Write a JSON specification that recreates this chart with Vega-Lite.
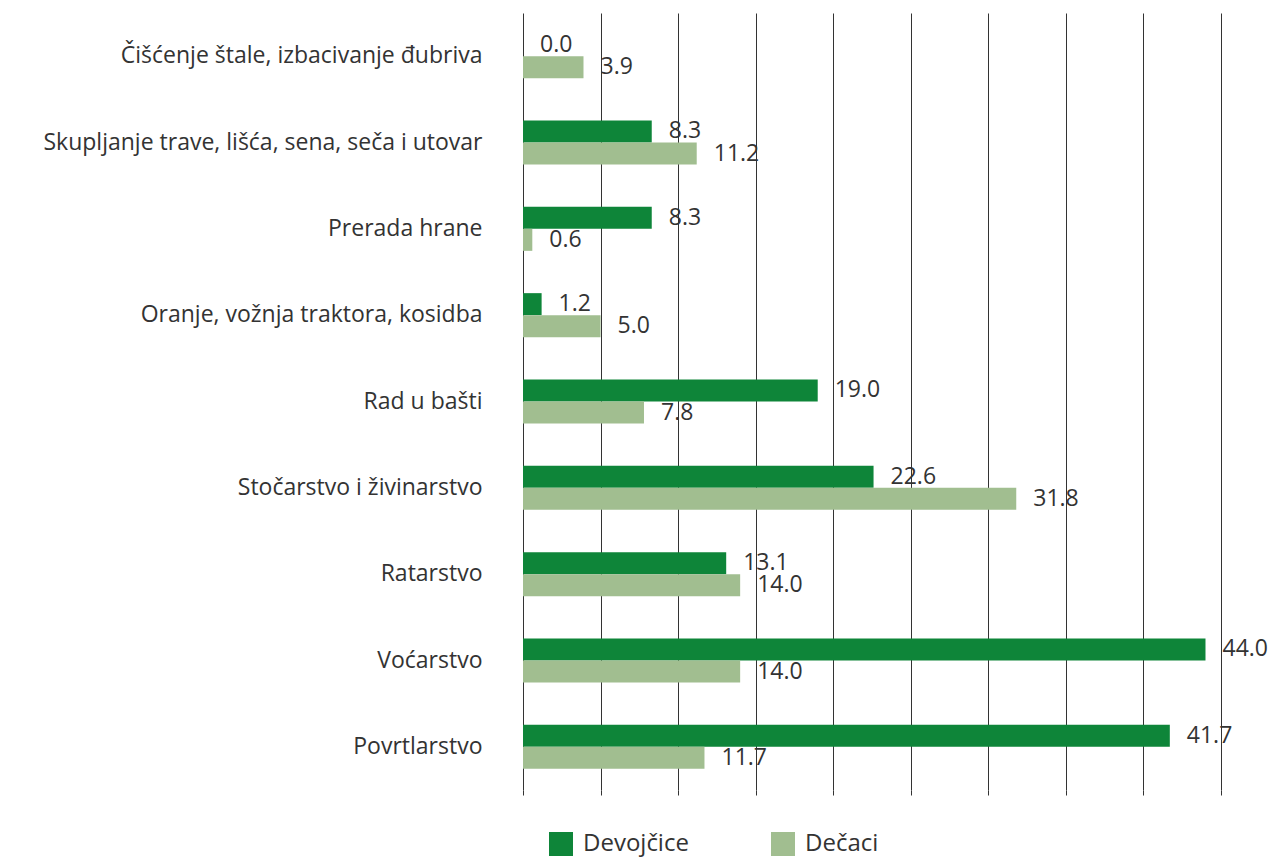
{
  "$schema": "https://vega.github.io/schema/vega-lite/v6.json",
  "autosize": {"type": "none"},
  "width": 698,
  "height": 777,
  "padding": {"left": 523, "top": 13, "right": 55, "bottom": 67},
  "background": "white",
  "config": {"view": {"stroke": null}, "font": "Open Sans"},
  "data": {"values": [
    {"kategorija": "Čišćenje štale, izbacivanje đubriva\u00a0\u00a0", "pol": "Devojčice", "vrednost": 0.0},
    {"kategorija": "Čišćenje štale, izbacivanje đubriva\u00a0\u00a0", "pol": "Dečaci", "vrednost": 3.9},
    {"kategorija": "Skupljanje trave, lišća, sena, seča i utovar\u00a0\u00a0\u00a0", "pol": "Devojčice", "vrednost": 8.3},
    {"kategorija": "Skupljanje trave, lišća, sena, seča i utovar\u00a0\u00a0\u00a0", "pol": "Dečaci", "vrednost": 11.2},
    {"kategorija": "Prerada hrane", "pol": "Devojčice", "vrednost": 8.3},
    {"kategorija": "Prerada hrane", "pol": "Dečaci", "vrednost": 0.6},
    {"kategorija": "Oranje, vožnja traktora, kosidba\u00a0\u00a0", "pol": "Devojčice", "vrednost": 1.2},
    {"kategorija": "Oranje, vožnja traktora, kosidba\u00a0\u00a0", "pol": "Dečaci", "vrednost": 5.0},
    {"kategorija": "Rad u bašti", "pol": "Devojčice", "vrednost": 19.0},
    {"kategorija": "Rad u bašti", "pol": "Dečaci", "vrednost": 7.8},
    {"kategorija": "Stočarstvo i živinarstvo\u00a0", "pol": "Devojčice", "vrednost": 22.6},
    {"kategorija": "Stočarstvo i živinarstvo\u00a0", "pol": "Dečaci", "vrednost": 31.8},
    {"kategorija": "Ratarstvo", "pol": "Devojčice", "vrednost": 13.1},
    {"kategorija": "Ratarstvo", "pol": "Dečaci", "vrednost": 14.0},
    {"kategorija": "Voćarstvo", "pol": "Devojčice", "vrednost": 44.0},
    {"kategorija": "Voćarstvo", "pol": "Dečaci", "vrednost": 14.0},
    {"kategorija": "Povrtlarstvo", "pol": "Devojčice", "vrednost": 41.7},
    {"kategorija": "Povrtlarstvo", "pol": "Dečaci", "vrednost": 11.7}
  ]},
  "encoding": {
    "y": {
      "field": "kategorija", "type": "nominal", "sort": null, "title": null,
      "scale": {"paddingInner": 0.49, "paddingOuter": 0.245},
      "axis": {"domain": false, "ticks": false, "labelPadding": 41, "labelFontSize": 23, "labelColor": "#333333", "labelFont": "Open Sans", "labelLimit": 600}
    },
    "yOffset": {"field": "pol", "type": "nominal", "sort": ["Devojčice", "Dečaci"], "scale": {"paddingInner": 0, "paddingOuter": 0}},
    "x": {
      "field": "vrednost", "type": "quantitative", "title": null,
      "scale": {"domain": [0, 45], "nice": false},
      "axis": {"values": [0, 5, 10, 15, 20, 25, 30, 35, 40, 45], "labels": false, "domain": false, "grid": true, "gridColor": "#333333", "gridWidth": 1, "gridOpacity": 1, "ticks": true, "tickSize": 5, "tickColor": "#333333", "orient": "bottom"}
    }
  },
  "layer": [
    {
      "mark": {"type": "bar"},
      "encoding": {
        "color": {
          "field": "pol", "type": "nominal", "title": null,
          "scale": {"domain": ["Devojčice", "Dečaci"], "range": ["#0e8539", "#a1be90"]},
          "legend": {"orient": "none", "legendX": 26, "legendY": 819, "direction": "horizontal", "symbolType": "square", "symbolSize": 576, "symbolStrokeWidth": 0, "labelFontSize": 24, "labelColor": "#333333", "labelFont": "Open Sans", "columnPadding": 82, "gridAlign": "all", "labelOffset": 10}
        }
      }
    },
    {
      "mark": {"type": "text", "align": "left", "baseline": "middle", "dx": 17, "fontSize": 23, "color": "#333333", "font": "Open Sans"},
      "encoding": {"text": {"field": "vrednost", "type": "quantitative", "format": ".1f"}}
    }
  ]
}
